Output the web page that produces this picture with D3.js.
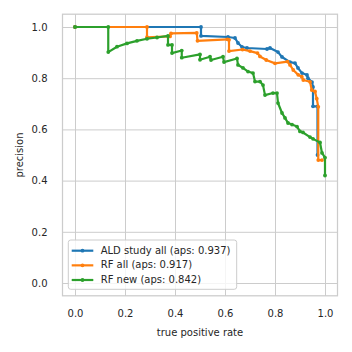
<!DOCTYPE html>
<html><head><meta charset="utf-8">
<script src="https://cdn.jsdelivr.net/npm/d3@7"></script>
<style>body{margin:0;background:#fff}</style>
</head><body><svg id="c" width="352" height="352"></svg>
<script>
const xTicks=[0,0.2,0.4,0.6,0.8,1.0];
const yTicks=[0,0.2,0.4,0.6,0.8,1.0];
const seriesNames=["ALD study all (aps: 0.937)","RF all (aps: 0.917)","RF new (aps: 0.842)"];
const seriesColors=["#1f77b4","#ff7f0e","#2ca02c"];

const aldRecall=[0,0.504,0.504,0.612,0.64,0.652,0.668,0.688,0.768,0.78,0.812,0.828,0.86,0.88,0.892,0.908,0.928,0.932,0.948,0.952,0.952,0.97,0.97];
const aldPrecision=[1.0,1.0,0.965,0.961,0.957,0.9375,0.922,0.918,0.914,0.918,0.902,0.883,0.863,0.859,0.84,0.82,0.8125,0.80,0.785,0.766,0.69,0.69,0.5];

const rfAllRecall=[0,0.288,0.288,0.38,0.384,0.487,0.49,0.61,0.616,0.616,0.67,0.7,0.73,0.74,0.765,0.8,0.85,0.86,0.873,0.893,0.907,0.913,0.94,0.947,0.96,0.967,0.973,0.973,0.988];
const rfAllPrecision=[1.0,1.0,0.96,0.963,0.975,0.977,0.946,0.952,0.95,0.906,0.912,0.906,0.898,0.885,0.871,0.858,0.865,0.852,0.832,0.813,0.806,0.793,0.786,0.754,0.748,0.72,0.688,0.48,0.48];

const rfNewRecall=[0,0.133,0.133,0.168,0.208,0.248,0.288,0.328,0.372,0.372,0.388,0.388,0.427,0.427,0.5,0.5,0.54,0.544,0.592,0.596,0.648,0.652,0.672,0.692,0.712,0.72,0.74,0.752,0.76,0.792,0.808,0.812,0.828,0.84,0.852,0.868,0.888,0.9,0.912,0.94,0.952,0.98,0.988,1.0,1.0];
const rfNewPrecision=[1.0,1.0,0.902,0.923,0.936,0.946,0.954,0.959,0.965,0.93,0.93,0.898,0.908,0.88,0.893,0.872,0.884,0.871,0.884,0.863,0.877,0.852,0.84,0.826,0.82,0.787,0.787,0.773,0.734,0.742,0.742,0.703,0.664,0.645,0.625,0.619,0.611,0.592,0.588,0.57,0.563,0.549,0.508,0.49,0.42];

const series=[
  {name:seriesNames[0],color:seriesColors[0],r:aldRecall,p:aldPrecision},
  {name:seriesNames[1],color:seriesColors[1],r:rfAllRecall,p:rfAllPrecision},
  {name:seriesNames[2],color:seriesColors[2],r:rfNewRecall,p:rfNewPrecision}
];

const svg=d3.select("#c");
const L=62.5,R=337.5,T=14.2,B=295.8;
const x=d3.scaleLinear().domain([-0.05,1.05]).range([L,R]);
const y=d3.scaleLinear().domain([-0.05,1.05]).range([B,T]);
const font="DejaVu Sans, sans-serif";
const fs="10px";
const txt="#262626";
const grid="#cccccc";

const gx=svg.append("g").attr("transform",`translate(0,${B})`)
  .call(d3.axisBottom(x).tickValues(xTicks).tickSize(-(B-T)).tickFormat(d3.format(".1f")));
const gy=svg.append("g").attr("transform",`translate(${L},0)`)
  .call(d3.axisLeft(y).tickValues(yTicks).tickSize(-(R-L)).tickFormat(d3.format(".1f")).tickPadding(15));
[gx,gy].forEach(g=>{
  g.select(".domain").remove();
  g.selectAll(".tick line").attr("stroke",grid).attr("stroke-width",1);
  g.selectAll(".tick text").attr("fill",txt).style("font-family",font).style("font-size",fs);
});
gx.selectAll(".tick text").attr("dy","0.35em").attr("y",17.5);

svg.append("rect").attr("x",L).attr("y",T).attr("width",R-L).attr("height",B-T)
  .attr("fill","none").attr("stroke",grid).attr("stroke-width",1.25);

const line=d3.line().x(d=>x(d[0])).y(d=>y(d[1]));
series.forEach(s=>{
  const pts=s.r.map((v,i)=>[v,s.p[i]]);
  const g=svg.append("g");
  g.append("path").attr("d",line(pts)).attr("fill","none").attr("stroke",s.color)
    .attr("stroke-width",2.2).attr("stroke-linejoin","round");
  g.selectAll("circle").data(pts).join("circle")
    .attr("cx",d=>x(d[0])).attr("cy",d=>y(d[1])).attr("r",1.9).attr("fill",s.color);
});

svg.append("text").attr("x",(L+R)/2).attr("y",333).attr("text-anchor","middle")
  .attr("dominant-baseline","middle").attr("fill",txt).style("font-family",font).style("font-size",fs)
  .text("true positive rate");
svg.append("text").attr("transform",`translate(20,${(T+B)/2}) rotate(-90)`).attr("text-anchor","middle")
  .attr("dominant-baseline","middle").attr("fill",txt).style("font-family",font).style("font-size",fs)
  .text("precision");

const lg=svg.append("g");
lg.append("rect").attr("x",68.3).attr("y",240).attr("width",168.4).attr("height",49.3).attr("rx",2.5)
  .attr("fill","#ffffff").attr("fill-opacity",0.8).attr("stroke",grid).attr("stroke-width",1);
series.forEach((s,i)=>{
  const yy=250.7+i*14.65;
  lg.append("line").attr("x1",71.7).attr("x2",93.3).attr("y1",yy).attr("y2",yy)
    .attr("stroke",s.color).attr("stroke-width",2.2);
  lg.append("circle").attr("cx",82.5).attr("cy",yy).attr("r",1.9).attr("fill",s.color);
  lg.append("text").attr("x",100.7).attr("y",yy).attr("dominant-baseline","middle")
    .attr("fill",txt).style("font-family",font).style("font-size",fs).text(s.name);
});
</script></body></html>
